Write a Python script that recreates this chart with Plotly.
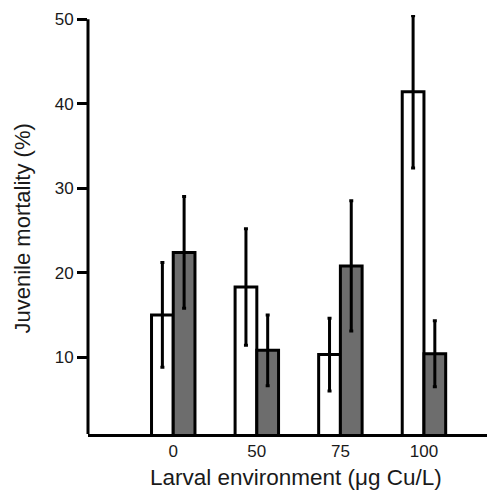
import plotly.graph_objects as go

categories = ["0", "50", "75", "100"]
x_pos = [0, 1, 2, 3]
white_vals = [15.0, 18.3, 10.3, 41.4]
white_err = [6.2, 6.9, 4.3, 9.0]
gray_vals = [22.4, 10.8, 20.8, 10.4]
gray_err = [6.6, 4.2, 7.7, 3.9]
y_ticks = [10, 20, 30, 40, 50]
y_range = [0.9, 50.5]

FONT = "Liberation Sans, Arial, Helvetica, sans-serif"
TXT = "#1a1a1a"

fig = go.Figure()
fig.add_trace(go.Bar(
    x=x_pos, y=white_vals, cliponaxis=False,
    marker=dict(color="white", line=dict(color="black", width=3)),
    error_y=dict(type="data", array=white_err, color="black", thickness=3, width=2),
    showlegend=False,
))
fig.add_trace(go.Bar(
    x=x_pos, y=gray_vals, cliponaxis=False,
    marker=dict(color="#6d6d6d", line=dict(color="black", width=3)),
    error_y=dict(type="data", array=gray_err, color="black", thickness=3, width=2),
    showlegend=False,
))

# page has an 8px body margin, so the figure is sized to fit the window
fig.update_layout(
    width=487, height=486,
    margin=dict(l=80, r=0, t=7, b=60, autoexpand=False),
    paper_bgcolor="white", plot_bgcolor="white",
    barmode="group", bargap=0.48, bargroupgap=0,
    font=dict(family=FONT, color=TXT, size=17),
    xaxis=dict(
        range=[-1.02, 3.85],
        tickvals=x_pos, ticktext=categories,
        showline=True, linecolor="black", linewidth=3,
        ticks="", showgrid=False, zeroline=False,
        tickfont=dict(size=17, color=TXT),
        automargin=False,
    ),
    yaxis=dict(
        range=y_range,
        tickvals=y_ticks,
        showline=False,
        ticks="outside", ticklen=10, tickwidth=3, tickcolor="black",
        showgrid=False, zeroline=False,
        tickfont=dict(size=17, color=TXT),
        automargin=False,
    ),
    shapes=[
        dict(type="line", xref="paper", yref="y", x0=0, x1=0,
             y0=y_range[0], y1=y_ticks[-1],
             line=dict(color="black", width=3), layer="above"),
    ],
    annotations=[
        dict(text="Larval environment (μg Cu/L)", xref="paper", yref="paper",
             x=0.5, y=0, xanchor="center", yanchor="middle", xshift=4, yshift=-43,
             showarrow=False, font=dict(size=22.5, color=TXT, family=FONT)),
        dict(text="Juvenile mortality (%)", xref="paper", yref="paper",
             x=0, y=0.5, xanchor="center", yanchor="middle", xshift=-66, yshift=-4,
             textangle=-90, showarrow=False, font=dict(size=22, color=TXT, family=FONT)),
    ],
)

fig.write_html("out.html")
